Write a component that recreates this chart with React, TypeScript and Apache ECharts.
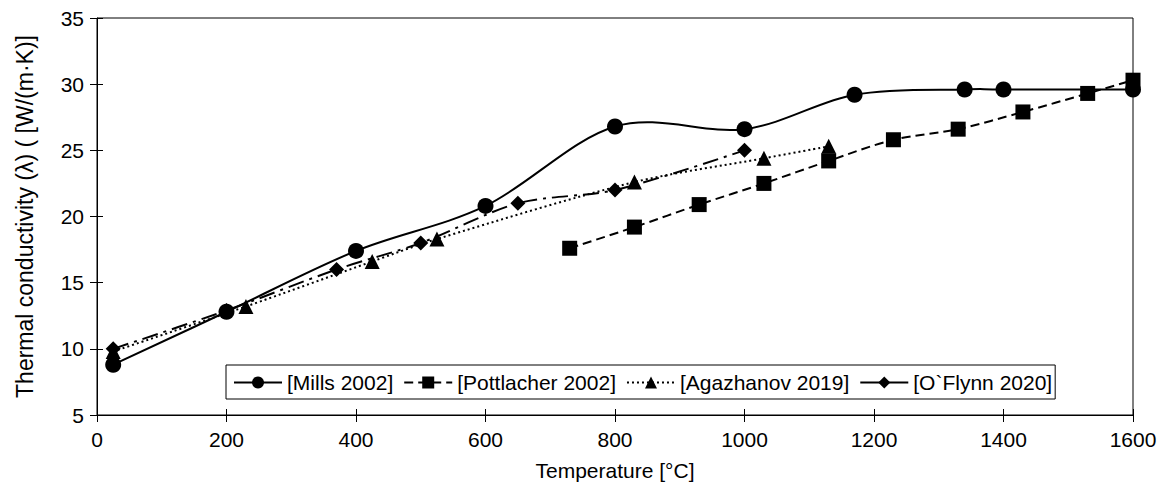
import React, { useEffect, useRef } from "react";
import * as echarts from "echarts";

// Temperature [°C] and thermal conductivity [W/(m·K)]
const millsT = [25, 200, 400, 600, 800, 1000, 1170, 1340, 1400, 1600];
const millsK = [8.8, 12.8, 17.4, 20.8, 26.8, 26.6, 29.2, 29.6, 29.6, 29.6];

const pottT = [730, 830, 930, 1030, 1130, 1230, 1330, 1430, 1530, 1600];
const pottK = [17.6, 19.2, 20.9, 22.5, 24.2, 25.8, 26.6, 27.9, 29.3, 30.3];

const agazT = [25, 230, 425, 525, 830, 1030, 1130];
const agazK = [9.8, 13.2, 16.6, 18.3, 22.6, 24.4, 25.3];

const oflynnT = [25, 200, 370, 500, 650, 800, 1000];
const oflynnK = [10.0, 12.9, 16.0, 18.0, 21.0, 22.0, 25.0];

const seriesNames = ["[Mills 2002]", "[Pottlacher 2002]", "[Agazhanov 2019]", "[O`Flynn 2020]"];

const xTitle = "Temperature [°C]";
const yTitle = "Thermal conductivity (λ) ( [W/(m·K)]";

const FONT = "'Liberation Sans', Arial, sans-serif";

const pairs = (xs: number[], ys: number[]) => xs.map((x, i) => [x, ys[i]]);

export default function App() {
  const ref = useRef<HTMLDivElement>(null);
  useEffect(() => {
    if (!ref.current) return;
    const chart = echarts.init(ref.current, undefined, { renderer: "svg" });
    const baseX = { type: "value", min: 0, max: 1600, interval: 200, position: "bottom" };
    const baseY = { type: "value", min: 5, max: 35, interval: 5, position: "left" };
    const mk = (
      name: string,
      data: number[][],
      symbol: string,
      size: number,
      dash: any,
      smooth: number,
      lineOpacity = 1
    ) => ({
      name,
      type: "line",
      data,
      symbol,
      symbolSize: size,
      smooth,
      xAxisIndex: 0,
      yAxisIndex: 0,
      itemStyle: { color: "#000" },
      lineStyle: { color: "#000", width: 2, type: dash, opacity: lineOpacity },
      emphasis: { disabled: true },
      z: 3,
    });

    // Excel-like smoothed curve (Catmull-Rom through the data points) for Mills
    const millsCurve = {
      name: "millsCurve",
      type: "custom",
      coordinateSystem: "cartesian2d",
      xAxisIndex: 0,
      yAxisIndex: 0,
      data: pairs(millsT, millsK),
      z: 2,
      silent: true,
      renderItem: (params: any, api: any) => {
        const i = params.dataIndex;
        const n = millsT.length;
        if (i >= n - 1) return { type: "group", children: [] };
        const P = (k: number) => {
          const j = Math.max(0, Math.min(n - 1, k));
          return api.coord([millsT[j], millsK[j]]);
        };
        const p0 = P(i - 1);
        const p1 = P(i);
        const p2 = P(i + 1);
        const p3 = P(i + 2);
        const t = 1 / 6;
        return {
          type: "bezierCurve",
          shape: {
            x1: p1[0],
            y1: p1[1],
            cpx1: p1[0] + (p2[0] - p0[0]) * t,
            cpy1: p1[1] + (p2[1] - p0[1]) * t,
            cpx2: p2[0] - (p3[0] - p1[0]) * t,
            cpy2: p2[1] - (p3[1] - p1[1]) * t,
            x2: p2[0],
            y2: p2[1],
          },
          style: { stroke: "#000", lineWidth: 2, fill: "none" },
        };
      },
    };

    chart.setOption({
      animation: false,
      grid: {
        left: 97,
        right: 34,
        top: 18,
        bottom: 71,
        show: true,
        borderColor: "#000",
        borderWidth: 1,
      },
      xAxis: [
        {
          ...baseX,
          axisLine: { show: true, lineStyle: { color: "#000", width: 1 } },
          axisTick: { show: true, inside: false, length: 7, lineStyle: { color: "#000" } },
          axisLabel: {
            color: "#000",
            fontSize: 21,
            fontFamily: FONT,
            margin: 14,
            formatter: (v: number) => String(v),
          },
          splitLine: { show: false },
          name: xTitle,
          nameLocation: "middle",
          nameGap: 45,
          nameTextStyle: { color: "#000", fontSize: 21, fontFamily: FONT },
        },
        {
          ...baseX,
          axisLine: { show: false },
          axisTick: { show: true, inside: true, length: 6, lineStyle: { color: "#000" } },
          axisLabel: { show: false },
          splitLine: { show: false },
        },
      ],
      yAxis: [
        {
          ...baseY,
          axisLine: { show: true, lineStyle: { color: "#000", width: 1 } },
          axisTick: { show: true, inside: false, length: 7, lineStyle: { color: "#000" } },
          axisLabel: { color: "#000", fontSize: 21, fontFamily: FONT, margin: 13 },
          splitLine: { show: false },
          name: yTitle,
          nameLocation: "middle",
          nameGap: 61,
          nameTextStyle: { color: "#000", fontSize: 23, fontFamily: FONT },
        },
        {
          ...baseY,
          axisLine: { show: false },
          axisTick: { show: true, inside: true, length: 6, lineStyle: { color: "#000" } },
          axisLabel: { show: false },
          splitLine: { show: false },
        },
      ],
      legend: {
        left: 226,
        top: 365,
        orient: "horizontal",
        backgroundColor: "#fff",
        borderColor: "#000",
        borderWidth: 1,
        padding: [7, 3, 6, 7],
        itemWidth: 48,
        itemHeight: 15,
        itemGap: 10,
        textStyle: { color: "#000", fontSize: 21, fontFamily: FONT },
        data: [
          { name: seriesNames[0], lineStyle: { opacity: 1, width: 2, type: "solid" } },
          { name: seriesNames[1] },
          { name: seriesNames[2] },
          { name: seriesNames[3], lineStyle: { type: "solid" } },
        ],
      },
      series: [
        millsCurve,
        mk(seriesNames[0], pairs(millsT, millsK), "circle", 16, "solid", 0, 0),
        mk(seriesNames[1], pairs(pottT, pottK), "rect", 15, [9, 5], 0.3),
        mk(seriesNames[2], pairs(agazT, agazK), "triangle", 15, [2, 3], 0.3),
        mk(seriesNames[3], pairs(oflynnT, oflynnK), "diamond", 15, [16, 6, 3, 6], 0.3),
      ],
    });
    return () => chart.dispose();
  }, []);
  return (
    <div
      ref={ref}
      style={{ position: "absolute", left: 0, top: 0, width: 1167, height: 486, background: "#fff" }}
    />
  );
}
